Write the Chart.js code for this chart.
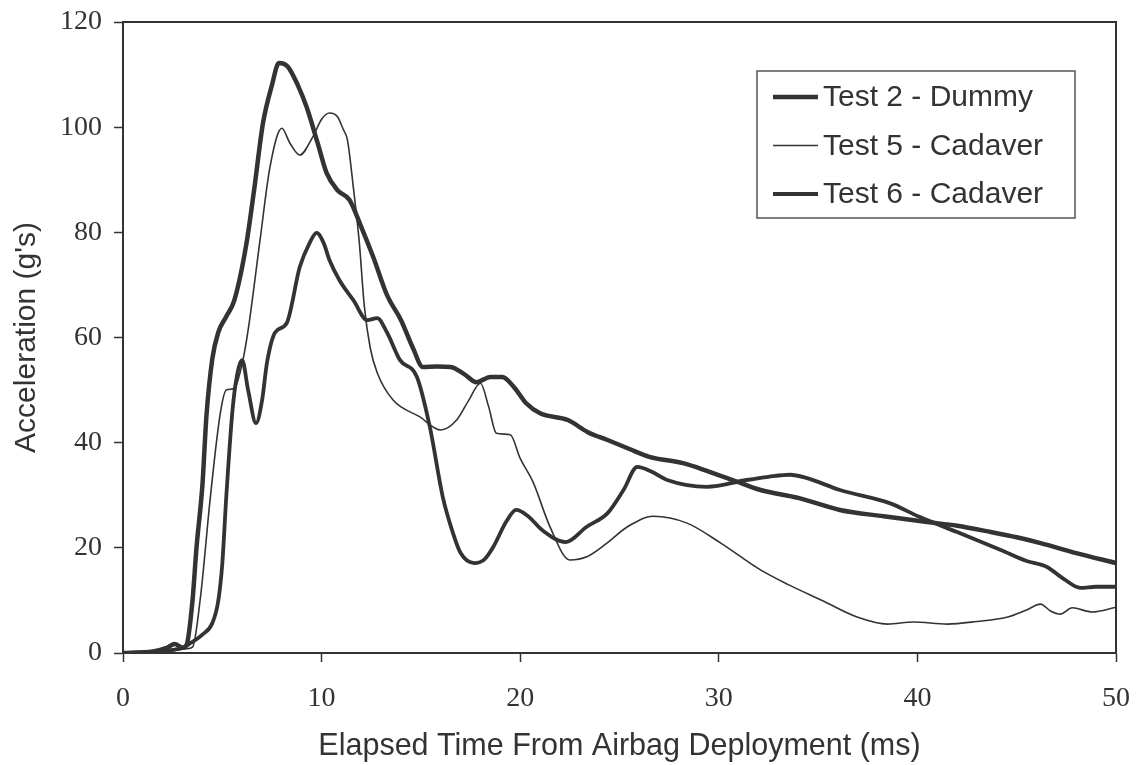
<!DOCTYPE html>
<html>
<head>
<meta charset="utf-8">
<title>Airbag acceleration</title>
<script src="https://cdn.jsdelivr.net/npm/chart.js@4.4.1/dist/chart.umd.min.js"></script>
<style>
  html, body { margin: 0; padding: 0; background: #fff; }
  #wrap { width: 1136px; height: 765px; }
</style>
</head>
<body>
<div id="wrap"><canvas id="accelChart" width="1136" height="765"></canvas></div>
<script>
// values (time in ms, acceleration in g's)
const test2Time = [0, 1.5, 2.2, 2.6, 3.0, 3.2, 3.5, 3.7, 4.0, 4.2, 4.5, 4.8, 5.2, 5.6, 6.2, 6.6, 7.05, 7.5, 7.85, 8.3, 8.8, 9.25, 9.8, 10.25, 10.8, 11.4, 12.0, 12.6, 13.3, 14.0, 14.6, 15.1, 15.8, 16.5, 17.2, 17.8, 18.5, 19.1, 19.7, 20.3, 21.0, 22.4, 23.4, 24.4, 25.5, 26.5, 28.2, 29.5, 30.7, 32.1, 34.0, 36.1, 38.3, 40.5, 42.0, 43.7, 45.0, 46.2, 48.0, 50];
const test2Accel = [0, 0.3, 1.0, 1.7, 1.0, 1.5, 10, 20, 32, 45, 56, 61, 64, 67, 77.5, 88, 100.8, 108, 112.2, 111.5, 108, 103.8, 97, 91.3, 88, 86.2, 81, 75.3, 68, 63.3, 58, 54.4, 54.5, 54.4, 53, 51.5, 52.5, 52.5, 50.5, 47.5, 45.6, 44.3, 42, 40.5, 38.8, 37.3, 36.1, 34.5, 32.9, 31, 29.5, 27.2, 26, 24.9, 24.2, 23, 22, 20.9, 19, 17.1];

const test5Time = [0, 2.0, 2.8, 3.2, 3.5, 3.9, 4.4, 4.9, 5.2, 5.6, 6.0, 6.3, 6.9, 7.4, 8.0, 8.4, 8.9, 9.55, 10.0, 10.4, 10.8, 11.1, 11.3, 11.6, 11.9, 12.15, 12.45, 12.8, 13.6, 14.95, 16.0, 16.8, 17.4, 18.0, 18.4, 18.8, 19.5, 20.0, 20.65, 21.5, 22.5, 23.35, 24.4, 25.4, 26.7, 28.4, 30.1, 32.1, 33.5, 35.2, 37.0, 38.5, 39.8, 41.5, 43.0, 44.5, 45.5, 46.2, 46.7, 47.2, 47.8, 48.8, 50];
const test5Accel = [0, 0.2, 0.6, 0.8, 1.1, 10.6, 29.7, 45.6, 50, 50.3, 55, 61.4, 78.5, 92.4, 99.8, 97, 94.7, 98.1, 101.5, 102.7, 102, 99.5, 97.6, 88.5, 78, 66, 58, 53.3, 48.1, 44.9, 42.4, 44.3, 48, 51.3, 47, 41.8, 41.5, 37, 32.5, 24, 17.7, 18.3, 21, 24, 26, 24.7, 20.9, 15.8, 13, 10, 6.8, 5.5, 5.9, 5.5, 6, 6.8, 8.2, 9.3, 8, 7.4, 8.6, 7.8, 8.7];

const test6Time = [0, 1.5, 2.5, 3.0, 3.4, 4.0, 4.5, 4.8, 5.0, 5.2, 5.5, 5.7, 6.0, 6.3, 6.7, 7.0, 7.25, 7.65, 8.25, 8.9, 9.4, 9.75, 10.1, 10.4, 10.9, 11.6, 12.3, 12.8, 13.3, 13.95, 14.8, 15.45, 16.1, 16.6, 17.0, 17.7, 18.2, 18.65, 19.3, 19.8, 20.4, 21.1, 22.3, 23.35, 24.4, 25.2, 25.9, 26.6, 27.4, 29.4, 31.4, 32.5, 33.6, 34.4, 36.1, 38.6, 40.1, 42.0, 44.2, 45.5, 46.5, 47.4, 48.2, 49.0, 50];
const test6Accel = [0, 0.2, 0.6, 1.0, 1.9, 3.5, 5.7, 10, 17, 29.7, 45.6, 51.9, 55.7, 50, 43.7, 48, 55.2, 60.9, 62.8, 73.4, 78, 79.9, 78, 74.7, 70.9, 67.1, 63.3, 63.7, 60.9, 55.7, 52.5, 43, 29.7, 23, 19, 17.1, 17.8, 20.2, 25, 27.2, 26, 23.4, 21.1, 24, 26.6, 31, 35.4, 34.5, 32.9, 31.6, 32.9, 33.5, 33.9, 33.3, 31, 28.5, 25.9, 23, 19.6, 17.5, 16.4, 14, 12.4, 12.6, 12.6];

const seriesLabels = ['Test 2 - Dummy', 'Test 5 - Cadaver', 'Test 6 - Cadaver'];
const xTicks = [0, 10, 20, 30, 40, 50];
const yTicks = [0, 20, 40, 60, 80, 100, 120];

const ink = '#333333';
const serif = '"Liberation Serif", "Times New Roman", serif';
const sans = '"Liberation Sans", Arial, sans-serif';

function toPoints(xs, ys) {
    return xs.map((x, i) => ({ x: x, y: ys[i] }));
}

// frame round the plot area plus the boxed legend in the upper right
const framePlugin = {
    id: 'frameAndLegend',
    afterDatasetsDraw(chart) {
        const { ctx, chartArea } = chart;
        ctx.save();
        ctx.strokeStyle = ink;
        ctx.lineWidth = 2;
        ctx.strokeRect(chartArea.left, chartArea.top, chartArea.right - chartArea.left, chartArea.bottom - chartArea.top);

        const boxX = chartArea.right - 359;
        const boxY = chartArea.top + 49;
        ctx.fillStyle = '#fff';
        ctx.fillRect(boxX, boxY, 318, 147);
        ctx.lineWidth = 1.5;
        ctx.strokeStyle = '#555';
        ctx.strokeRect(boxX, boxY, 318, 147);

        ctx.font = '30px ' + sans;
        ctx.textBaseline = 'middle';
        ctx.fillStyle = ink;
        chart.data.datasets.forEach((ds, i) => {
            const rowY = boxY + 26 + i * 48.5;
            ctx.beginPath();
            ctx.lineWidth = ds.borderWidth;
            ctx.strokeStyle = ds.borderColor;
            ctx.moveTo(boxX + 16, rowY);
            ctx.lineTo(boxX + 61, rowY);
            ctx.stroke();
            ctx.fillText(ds.label, boxX + 66, rowY + 1);
        });
        ctx.restore();
    }
};

const ctx = document.getElementById('accelChart').getContext('2d');
new Chart(ctx, {
    type: 'line',
    data: {
        datasets: [
            { label: seriesLabels[0], data: toPoints(test2Time, test2Accel), borderColor: ink, borderWidth: 4.5 },
            { label: seriesLabels[1], data: toPoints(test5Time, test5Accel), borderColor: ink, borderWidth: 1.6 },
            { label: seriesLabels[2], data: toPoints(test6Time, test6Accel), borderColor: ink, borderWidth: 3.8 }
        ]
    },
    options: {
        responsive: false,
        animation: false,
        events: [],
        layout: { padding: { top: 22, right: 20, left: 0, bottom: 0 } },
        elements: {
            point: { radius: 0 },
            line: { cubicInterpolationMode: 'monotone', fill: false, borderCapStyle: 'round', borderJoinStyle: 'round' }
        },
        plugins: {
            legend: { display: false },
            tooltip: { enabled: false }
        },
        scales: {
            x: {
                type: 'linear',
                min: 0,
                max: 50,
                afterBuildTicks: axis => { axis.ticks = xTicks.map(v => ({ value: v })); },
                afterFit: axis => {
                    axis.height = 112;
                    axis.paddingLeft = 0;
                    axis.paddingRight = 0;
                },
                grid: { drawOnChartArea: false, drawTicks: true, tickLength: 9, tickColor: ink, tickWidth: 1.5 },
                border: { display: true, color: ink, width: 2 },
                ticks: { color: ink, font: { family: serif, size: 28 }, padding: 20, maxRotation: 0 },
                title: { display: true, text: 'Elapsed Time From Airbag Deployment (ms)', color: ink, font: { family: sans, size: 30.5 }, padding: { top: 0, bottom: 0 } }
            },
            y: {
                min: 0,
                max: 120,
                afterBuildTicks: axis => { axis.ticks = yTicks.map(v => ({ value: v })); },
                afterFit: axis => {
                    axis.width = 123;
                    axis.paddingTop = 0;
                    axis.paddingBottom = 0;
                },
                grid: { drawOnChartArea: false, drawTicks: true, tickLength: 9, tickColor: ink, tickWidth: 1.5 },
                border: { display: true, color: ink, width: 2 },
                ticks: { color: ink, font: { family: serif, size: 28 }, padding: 12 },
                title: { display: true, text: "Acceleration (g's)", color: ink, font: { family: sans, size: 30 }, padding: { top: 9, bottom: 0 } }
            }
        }
    },
    plugins: [framePlugin]
});
</script>
</body>
</html>
